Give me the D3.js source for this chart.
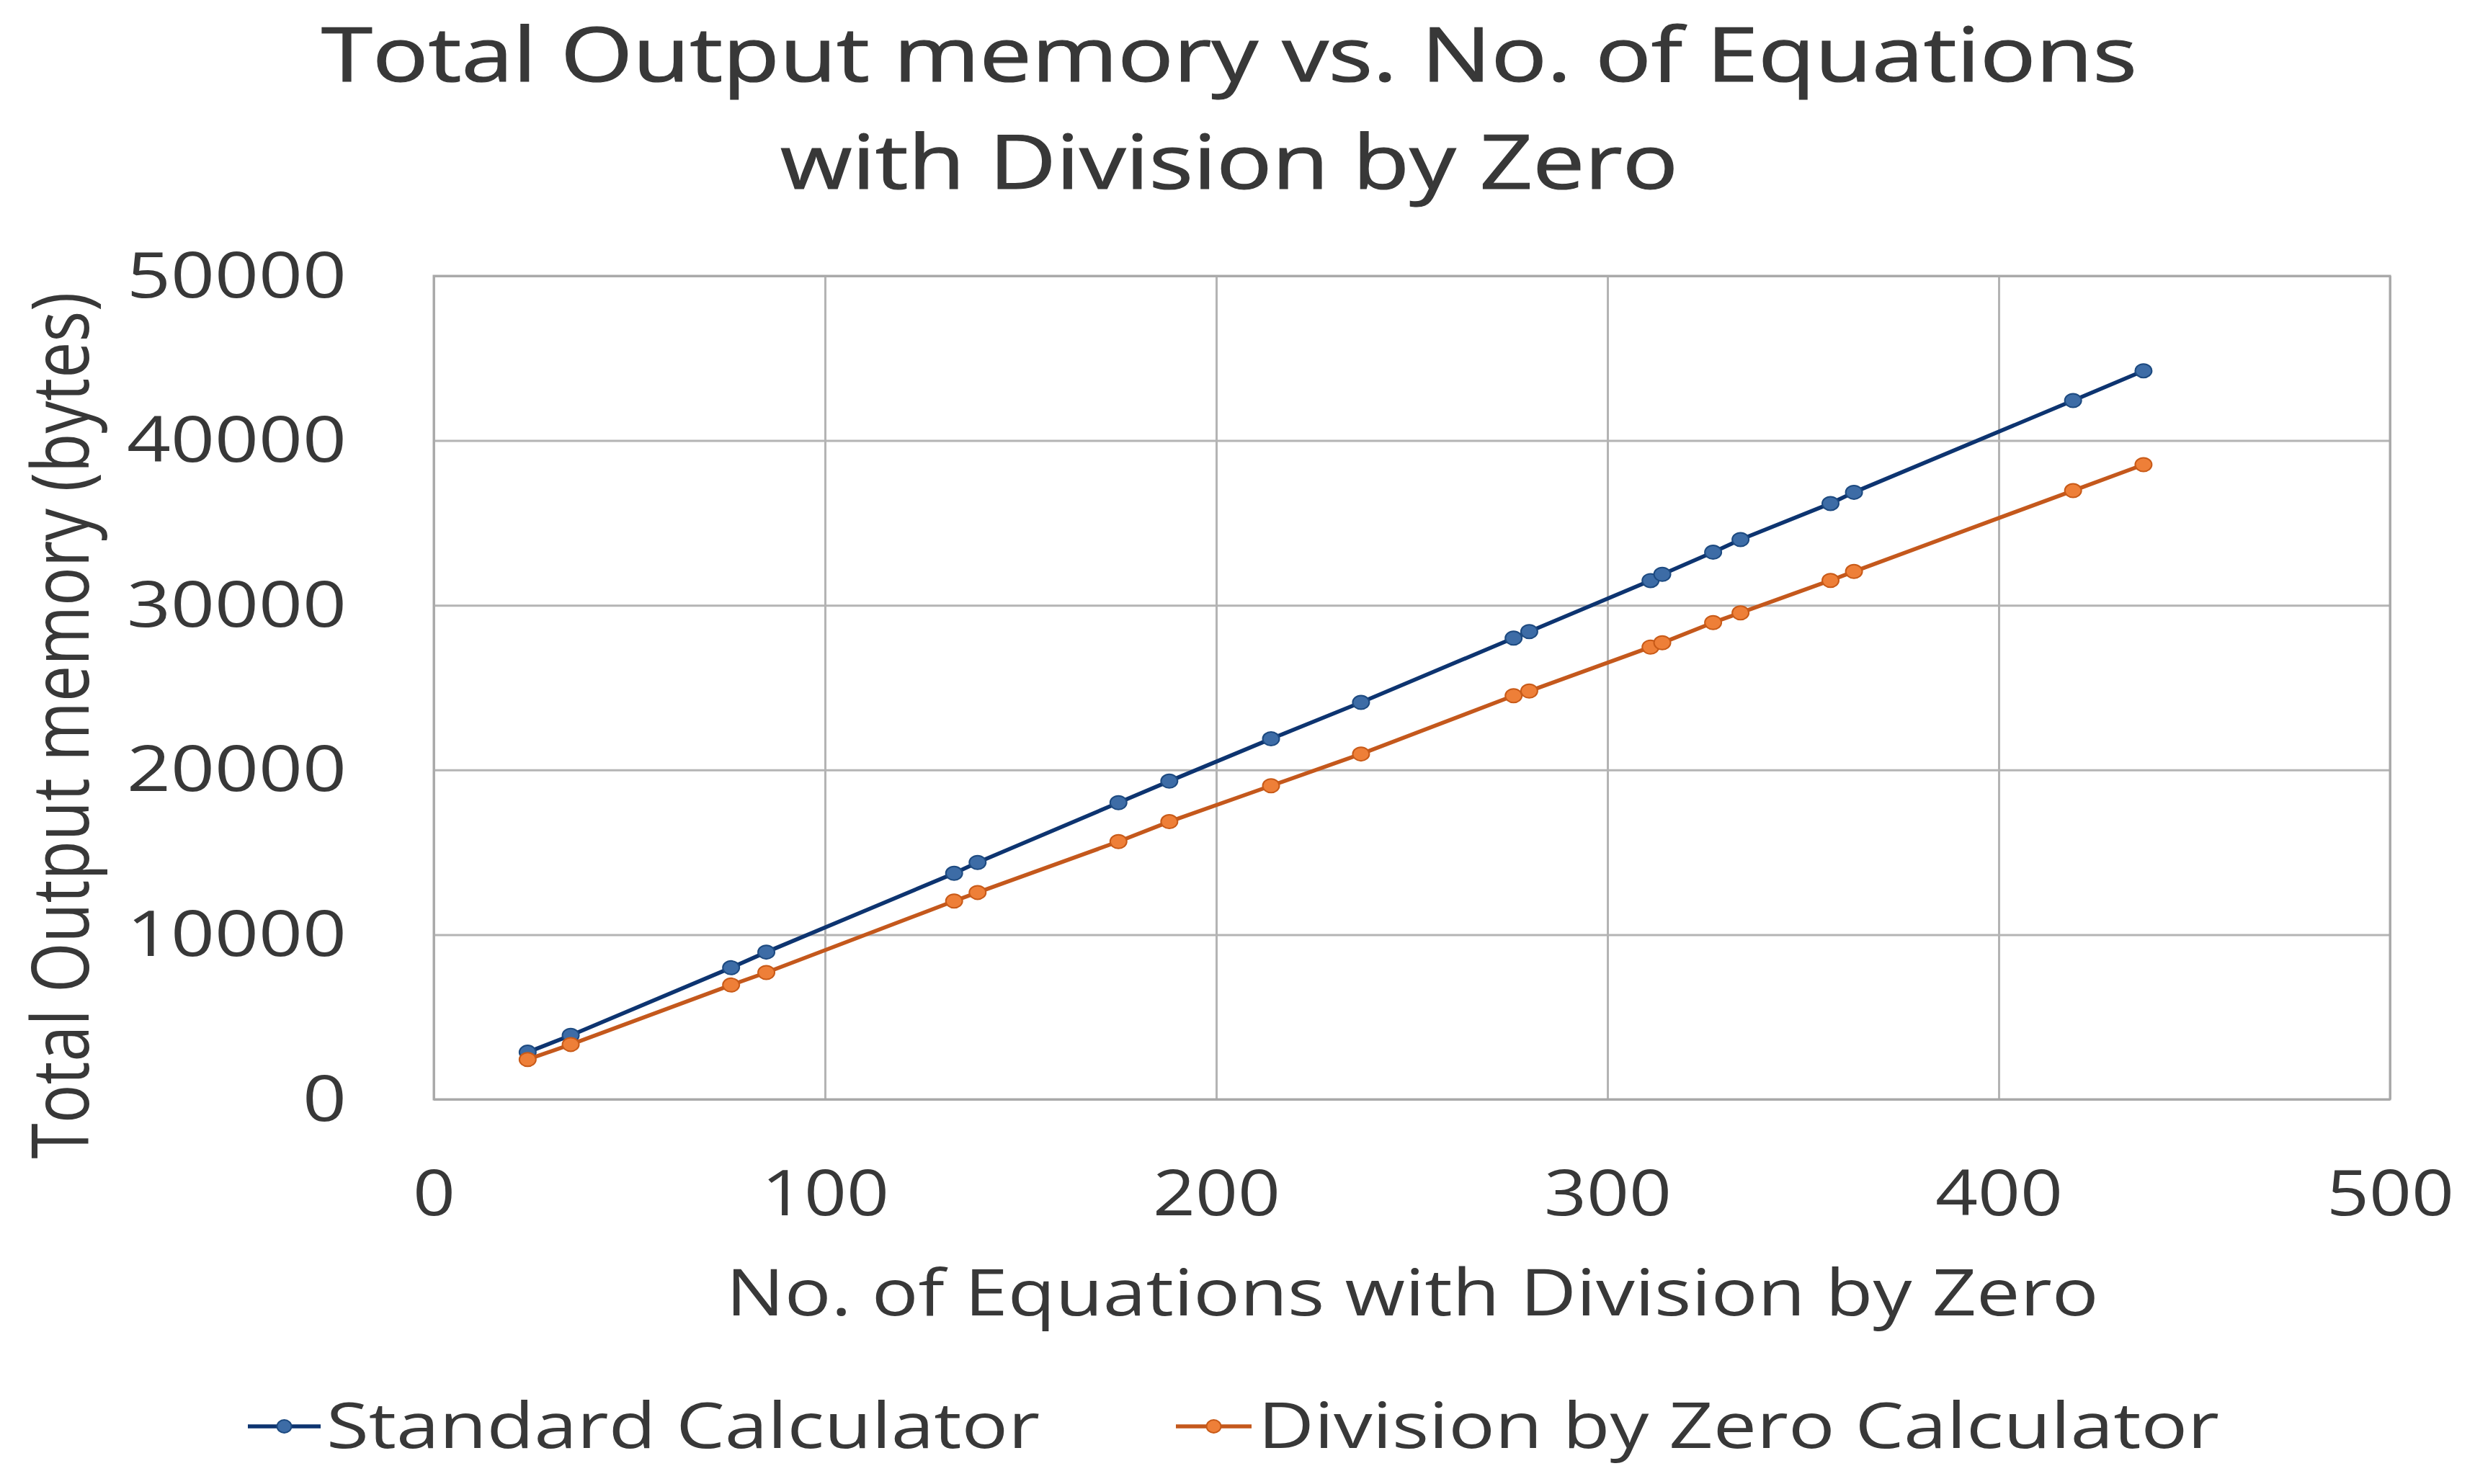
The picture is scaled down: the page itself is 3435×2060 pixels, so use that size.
<!DOCTYPE html>
<html>
<head>
<meta charset="utf-8">
<script src="https://cdn.jsdelivr.net/npm/d3@7"></script>
<style>
  html, body { margin: 0; padding: 0; background: #ffffff; }
  svg { display: block; }
</style>
</head>
<body>
<div id="chart"></div>
<script>
// ---- Data ----
const equationCounts = [24, 35, 76, 85, 133, 139, 175, 188, 214, 237, 276, 280, 311, 314, 327, 334, 357, 363, 419, 437];
const standardMemory = [2860, 3880, 7990, 8940, 13720, 14380, 18010, 19320, 21890, 24100, 28010, 28400, 31500, 31880, 33220, 33990, 36180, 36860, 42430, 44240];
const divZeroMemory  = [2420, 3330, 6940, 7700, 12040, 12560, 15650, 16860, 19040, 20970, 24510, 24790, 27460, 27720, 28950, 29540, 31510, 32050, 36960, 38540];
const seriesNames = ["Standard Calculator", "Division by Zero Calculator"];
const xTickValues = [0, 100, 200, 300, 400, 500];
const yTickValues = [0, 10000, 20000, 30000, 40000, 50000];
const titleLines = ["Total Output memory vs. No. of Equations", "with Division by Zero"];
const xAxisTitle = "No. of Equations with Division by Zero";
const yAxisTitle = "Total Output memory (bytes)";

// ---- Layout / style ----
const W = 3435, H = 2060;
const plot = { left: 602, right: 3317, top: 383, bottom: 1526 };
const textColor = "#383838";
const gridColor = "#b4b4b4";
const fontFamily = "'Open Sans', 'Noto Sans', sans-serif";
const styles = [
  { line: "#0d3470", fill: "#3d6ca6", stroke: "#1d4a80" },
  { line: "#c4581c", fill: "#ee7f38", stroke: "#c85a18" }
];

const svg = d3.select("#chart").append("svg")
  .attr("width", W).attr("height", H)
  .attr("viewBox", `0 0 ${W} ${H}`);
svg.append("rect").attr("width", W).attr("height", H).attr("fill", "#ffffff");

const x = d3.scaleLinear().domain([0, 500]).range([plot.left, plot.right]);
const y = d3.scaleLinear().domain([0, 50000]).range([plot.bottom, plot.top]);

// ---- Title ----
const titleSpecs = [
  { baseline: 113, length: 2520 },
  { baseline: 262, length: 1246 }
];
titleLines.forEach((t, i) => {
  svg.append("text")
    .attr("x", 1706).attr("y", titleSpecs[i].baseline)
    .attr("text-anchor", "middle")
    .attr("font-family", fontFamily)
    .attr("font-size", 104)
    .attr("fill", textColor)
    .attr("stroke", textColor).attr("stroke-width", 1.2)
    .attr("textLength", titleSpecs[i].length)
    .attr("lengthAdjust", "spacingAndGlyphs")
    .text(t);
});

// ---- Gridlines ----
const gridY = svg.append("g")
  .attr("transform", `translate(${plot.left},0)`)
  .call(d3.axisLeft(y).tickValues(yTickValues).tickSize(-(plot.right - plot.left)).tickFormat(""));
gridY.select(".domain").remove();
gridY.selectAll("line").attr("stroke", gridColor).attr("stroke-width", 3);

const gridX = svg.append("g")
  .attr("transform", `translate(0,${plot.bottom})`)
  .call(d3.axisBottom(x).tickValues(xTickValues).tickSize(-(plot.bottom - plot.top)).tickFormat(""));
gridX.select(".domain").remove();
gridX.selectAll("line").attr("stroke", gridColor).attr("stroke-width", 3);

// plot border
svg.append("rect")
  .attr("x", plot.left).attr("y", plot.top)
  .attr("width", plot.right - plot.left).attr("height", plot.bottom - plot.top)
  .attr("fill", "none").attr("stroke", "#a8a8a8").attr("stroke-width", 3);

// ---- Tick labels ----
const yAxis = svg.append("g")
  .attr("transform", `translate(${plot.left},0)`)
  .call(d3.axisLeft(y).tickValues(yTickValues).tickSize(0).tickFormat(d3.format("d")));
yAxis.select(".domain").remove();
yAxis.selectAll("text")
  .attr("x", 481 - plot.left)
  .attr("dy", "0.33em")
  .attr("font-family", fontFamily)
  .attr("font-size", 88)
  .attr("fill", textColor)
  .attr("textLength", d => String(d).length * 61)
  .attr("lengthAdjust", "spacingAndGlyphs");

const xAxis = svg.append("g")
  .attr("transform", `translate(0,${plot.bottom})`)
  .call(d3.axisBottom(x).tickValues(xTickValues).tickSize(0).tickFormat(d3.format("d")));
xAxis.select(".domain").remove();
xAxis.selectAll("text")
  .attr("y", 1687 - plot.bottom)
  .attr("dy", 0)
  .attr("font-family", fontFamily)
  .attr("font-size", 88)
  .attr("fill", textColor)
  .attr("textLength", d => String(d).length * 59)
  .attr("lengthAdjust", "spacingAndGlyphs");

// ---- Axis titles ----
svg.append("text")
  .attr("x", 1960).attr("y", 1826)
  .attr("text-anchor", "middle")
  .attr("font-family", fontFamily)
  .attr("font-size", 90)
  .attr("fill", textColor)
  .attr("textLength", 1905)
  .attr("lengthAdjust", "spacingAndGlyphs")
  .text(xAxisTitle);

svg.append("text")
  .attr("transform", `translate(123,1007) rotate(-90)`)
  .attr("text-anchor", "middle")
  .attr("font-family", fontFamily)
  .attr("font-size", 110)
  .attr("fill", textColor)
  .attr("textLength", 1203)
  .attr("lengthAdjust", "spacingAndGlyphs")
  .text(yAxisTitle);

// ---- Series ----
const seriesData = [standardMemory, divZeroMemory].map(vals =>
  equationCounts.map((c, i) => ({ x: c, y: vals[i] })));

const line = d3.line().x(d => x(d.x)).y(d => y(d.y));

seriesData.forEach((data, si) => {
  const g = svg.append("g");
  g.append("path")
    .datum(data)
    .attr("d", line)
    .attr("fill", "none")
    .attr("stroke", styles[si].line)
    .attr("stroke-width", 5.5)
    .attr("stroke-linejoin", "round");
  g.selectAll("ellipse")
    .data(data)
    .join("ellipse")
    .attr("cx", d => x(d.x))
    .attr("cy", d => y(d.y))
    .attr("rx", 11.5).attr("ry", 9.5)
    .attr("fill", styles[si].fill)
    .attr("stroke", styles[si].stroke)
    .attr("stroke-width", 2);
});

// ---- Legend ----
const legendItems = [
  { x0: 344, x1: 445, tx: 453, len: 990 },
  { x0: 1632, x1: 1737, tx: 1746, len: 1334 }
];
legendItems.forEach((it, i) => {
  const g = svg.append("g");
  g.append("line")
    .attr("x1", it.x0).attr("x2", it.x1)
    .attr("y1", 1980).attr("y2", 1980)
    .attr("stroke", styles[i].line).attr("stroke-width", 5.5);
  g.append("ellipse")
    .attr("cx", (it.x0 + it.x1) / 2).attr("cy", 1980)
    .attr("rx", 10).attr("ry", 9)
    .attr("fill", styles[i].fill)
    .attr("stroke", styles[i].stroke).attr("stroke-width", 2);
  g.append("text")
    .attr("x", it.tx).attr("y", 2010)
    .attr("font-family", fontFamily)
    .attr("font-size", 88)
    .attr("fill", textColor)
    .attr("textLength", it.len)
    .attr("lengthAdjust", "spacingAndGlyphs")
    .text(seriesNames[i]);
});
</script>
</body>
</html>
